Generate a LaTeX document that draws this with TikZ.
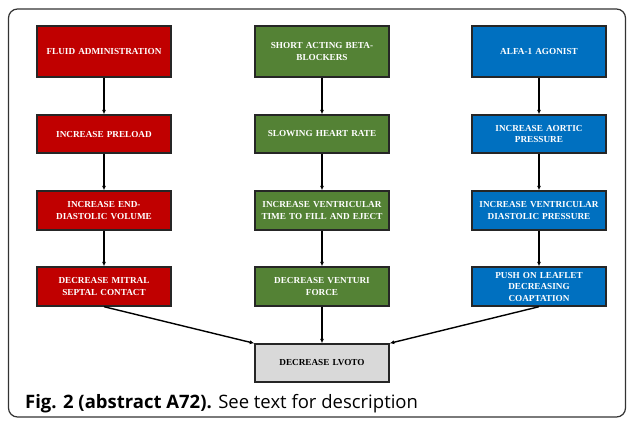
\documentclass[tikz,border=0pt]{standalone}
\usepackage{fontspec}
\setmainfont{Liberation Serif}
\newfontfamily\capfont{Open Sans}
\usetikzlibrary{arrows.meta}
\definecolor{boxred}{HTML}{C00000}
\definecolor{boxgreen}{HTML}{548235}
\definecolor{boxblue}{HTML}{0070C0}
\definecolor{boxgray}{HTML}{D9D9D9}
\definecolor{framegray}{HTML}{333333}
\begin{document}
\begin{tikzpicture}[x=1pt,y=-1pt,
  box/.style={draw=black!85, line width=1.4pt, minimum width=134pt, inner sep=2pt,
    text width=128pt, align=center, font=\fontsize{9.2}{11.5}\selectfont\bfseries, text=white},
  redbox/.style={box, fill=boxred},
  greenbox/.style={box, fill=boxgreen},
  bluebox/.style={box, fill=boxblue},
  graybox/.style={box, fill=boxgray, text=black},
  arr/.style={line width=1.4pt, -{Latex[length=4.5pt,width=4pt]}}]
\useasboundingbox (0,0) rectangle (627,426);
\draw[framegray, line width=1.2pt, rounded corners=9pt] (8.5,9) rectangle (625.5,417);
% red column
\node[redbox, minimum height=51pt] (r1) at (104,51.5) {FLUID ADMINISTRATION};
\node[redbox, minimum height=38pt] (r2) at (104,134) {INCREASE PRELOAD};
\node[redbox, minimum height=39pt] (r3) at (104,210.5) {INCREASE END-\\DIASTOLIC VOLUME};
\node[redbox, minimum height=39pt] (r4) at (104,286.5) {DECREASE MITRAL\\SEPTAL CONTACT};
% green column
\node[greenbox, minimum height=51pt] (g1) at (322,51.5) {SHORT ACTING BETA-\\BLOCKERS};
\node[greenbox, minimum height=38pt] (g2) at (322,134) {SLOWING HEART RATE};
\node[greenbox, minimum height=39pt] (g3) at (322,210.5) {INCREASE VENTRICULAR\\TIME TO FILL AND EJECT};
\node[greenbox, minimum height=39pt] (g4) at (322,286.5) {DECREASE VENTURI\\FORCE};
% blue column
\node[bluebox, minimum height=51pt] (b1) at (539,51.5) {ALFA-1 AGONIST};
\node[bluebox, minimum height=38pt] (b2) at (539,134) {INCREASE AORTIC\\PRESSURE};
\node[bluebox, minimum height=39pt] (b3) at (539,210.5) {INCREASE VENTRICULAR\\DIASTOLIC PRESSURE};
\node[bluebox, minimum height=39pt] (b4) at (539,286.5) {PUSH ON LEAFLET\\DECREASING\\COAPTATION};
% result
\node[graybox, minimum height=38pt] (res) at (322,363) {DECREASE LVOTO};
% arrows
\draw[arr] (r1) -- (r2);
\draw[arr] (r2) -- (r3);
\draw[arr] (r3) -- (r4);
\draw[arr] (g1) -- (g2);
\draw[arr] (g2) -- (g3);
\draw[arr] (g3) -- (g4);
\draw[arr] (b1) -- (b2);
\draw[arr] (b2) -- (b3);
\draw[arr] (b3) -- (b4);
\draw[arr] (r4.south) -- (res.north west);
\draw[arr] (g4) -- (res);
\draw[arr] (b4.south) -- (res.north east);
% caption
\node[anchor=base west, inner sep=0pt, font=\capfont\fontsize{18.5}{22}\selectfont] (cap) at (25,408)
  {\textbf{Fig. 2 (abstract A72).} See text for description};
\end{tikzpicture}
\end{document}
